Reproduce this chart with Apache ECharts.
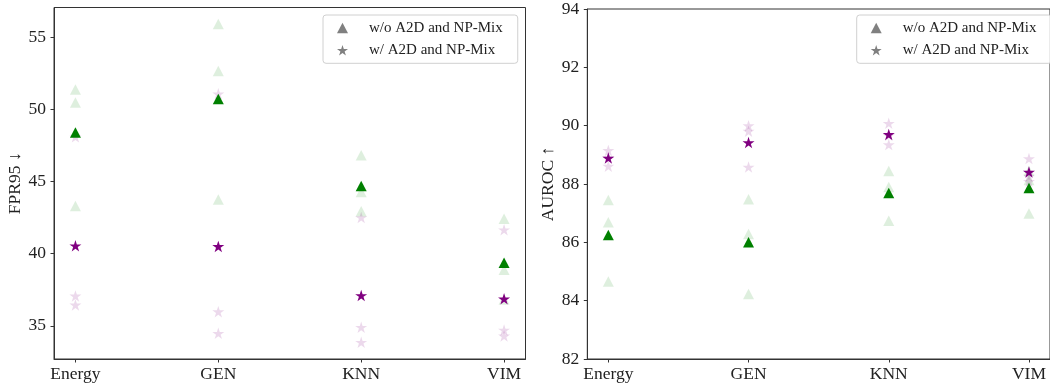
<!DOCTYPE html>
<html>
<head>
<meta charset="utf-8">
<script src="https://cdn.jsdelivr.net/npm/echarts@6/dist/echarts.min.js"></script>
<style>
html,body{margin:0;padding:0;background:#fff;}
#chart{width:1050px;height:387px;}
</style>
</head>
<body>
<div id="chart"></div>
<script>
const categories = ['Energy', 'GEN', 'KNN', 'VIM'];
const seriesNames = ['w/o A2D and NP-Mix', 'w/ A2D and NP-Mix'];

// FPR95 (left panel)
const fprWoRuns = [[51.39, 50.49, 43.31], [55.92, 52.66, 43.75], [46.83, 44.28, 42.94], [42.43, 38.89, 36.82]];
const fprWoMean = [48.40, 50.72, 44.70, 39.38];
const fprWRuns  = [[37.03, 36.41, 48.06], [35.94, 34.44, 51.04], [42.47, 34.86, 33.82], [41.62, 34.67, 34.26]];
const fprWMean  = [40.51, 40.46, 37.06, 36.83];
const fprTicks  = [35, 40, 45, 50, 55];

// AUROC (right panel)
const aurocWoRuns = [[87.45, 86.69, 84.66], [87.48, 86.29, 84.23], [88.45, 87.90, 86.74], [88.45, 88.14, 86.99]];
const aurocWoMean = [86.25, 86.00, 87.69, 87.86];
const aurocWRuns  = [[89.13, 88.59, 88.89], [89.98, 89.79, 88.56], [90.06, 89.33, 89.65], [88.85, 88.25, 88.07]];
const aurocWMean  = [88.87, 89.40, 89.68, 88.39];
const aurocTicks  = [82, 84, 86, 88, 90, 92, 94];

const STAR = 'path://M0,-100 L22.45,-30.9 L95.1,-30.9 L36.3,11.8 L58.8,80.9 L0,38.2 L-58.8,80.9 L-36.3,11.8 L-95.1,-30.9 L-22.45,-30.9 Z';
const FONT = 'Liberation Serif';
const GREEN = '#008000', PURPLE = '#800080';
const LIGHT_GREEN = 'rgba(0,128,0,0.13)', LIGHT_PURPLE = 'rgba(128,0,128,0.15)';

function runsData(runs) {
  const out = [];
  runs.forEach((arr, i) => arr.forEach(v => out.push([i, v])));
  return out;
}
function meanData(means) { return means.map((v, i) => [i, v]); }

function xAxis(gi) {
  return {
    type: 'value', gridIndex: gi, min: -0.15, max: 3.15,
    axisLine: { show: true, onZero: false, lineStyle: { color: '#333', width: 1 } },
    axisTick: { show: true, length: 3.5, lineStyle: { color: '#333' }, customValues: [0, 1, 2, 3] },
    axisLabel: { customValues: [0, 1, 2, 3], formatter: v => categories[Math.round(v)], color: '#222',
                 fontFamily: FONT, fontSize: 17.5, margin: 6 },
    splitLine: { show: false }
  };
}
function yAxis(gi, name, min, max, ticks) {
  return {
    type: 'value', gridIndex: gi, min: min, max: max,
    name: name, nameLocation: 'middle', nameGap: 29,
    nameTextStyle: { fontFamily: FONT, fontSize: 17.5, color: '#222' },
    axisLine: { show: true, onZero: false, lineStyle: { color: '#333', width: 1 } },
    axisTick: { show: true, length: 3.5, lineStyle: { color: '#333' }, customValues: ticks },
    axisLabel: { customValues: ticks, color: '#222', fontFamily: FONT, fontSize: 17.5, margin: 8 },
    splitLine: { show: false }
  };
}
function panelSeries(gi, woRuns, woMean, wRuns, wMean) {
  const base = { type: 'scatter', xAxisIndex: gi, yAxisIndex: gi, silent: true };
  return [
    Object.assign({}, base, { name: 'light-wo', data: runsData(woRuns), symbol: 'triangle', symbolSize: [11, 10.5],
      itemStyle: { color: LIGHT_GREEN, opacity: 1 }, z: 2 }),
    Object.assign({}, base, { name: 'light-w', data: runsData(wRuns), symbol: STAR, symbolSize: [12, 11.5], symbolOffset: [0, -0.6],
      itemStyle: { color: LIGHT_PURPLE, opacity: 1 }, z: 2 }),
    Object.assign({}, base, { name: seriesNames[0], data: meanData(woMean), symbol: 'triangle', symbolSize: [11, 10.5],
      itemStyle: { color: GREEN, opacity: 1 }, z: 3 }),
    Object.assign({}, base, { name: seriesNames[1], data: meanData(wMean), symbol: STAR, symbolSize: [12, 11.5], symbolOffset: [0, -0.6],
      itemStyle: { color: PURPLE, opacity: 1 }, z: 4 })
  ];
}
function legend(left) {
  return {
    left: left, top: 15, orient: 'vertical',
    data: [
      { name: seriesNames[0], icon: 'triangle', itemStyle: { color: '#808080', opacity: 1 } },
      { name: seriesNames[1], icon: STAR, itemStyle: { color: '#808080', opacity: 1 } }
    ],
    itemWidth: 11, itemHeight: 10.5, itemGap: 6.3,
    padding: [5, 15, 5, 14],
    backgroundColor: 'rgba(255,255,255,0.8)', borderColor: '#d0d0d0', borderWidth: 1, borderRadius: 3,
    textStyle: { fontFamily: FONT, fontSize: 15, color: '#222', lineHeight: 16, padding: [0, 0, 0, 16] },
    selectedMode: false
  };
}

const chart = echarts.init(document.getElementById('chart'), null, { renderer: 'canvas' });
chart.setOption({
  animation: false,
  backgroundColor: '#fff',
  grid: [
    { left: 54, top: 7.5, width: 471.5, height: 351.5, show: true, borderColor: '#333', borderWidth: 1, backgroundColor: 'transparent' },
    { left: 587.3, top: 7.3, width: 471.5, height: 351.7, show: true, borderColor: '#333', borderWidth: 1, backgroundColor: 'transparent' }
  ],
  xAxis: [xAxis(0), xAxis(1)],
  yAxis: [yAxis(0, 'FPR95 ↓', 32.7, 57.07, fprTicks), yAxis(1, 'AUROC ↑', 82, 94, aurocTicks)],
  legend: [legend(323), legend(856.7)],
  series: [].concat(
    panelSeries(0, fprWoRuns, fprWoMean, fprWRuns, fprWMean),
    panelSeries(1, aurocWoRuns, aurocWoMean, aurocWRuns, aurocWMean)
  )
});
</script>
</body>
</html>
